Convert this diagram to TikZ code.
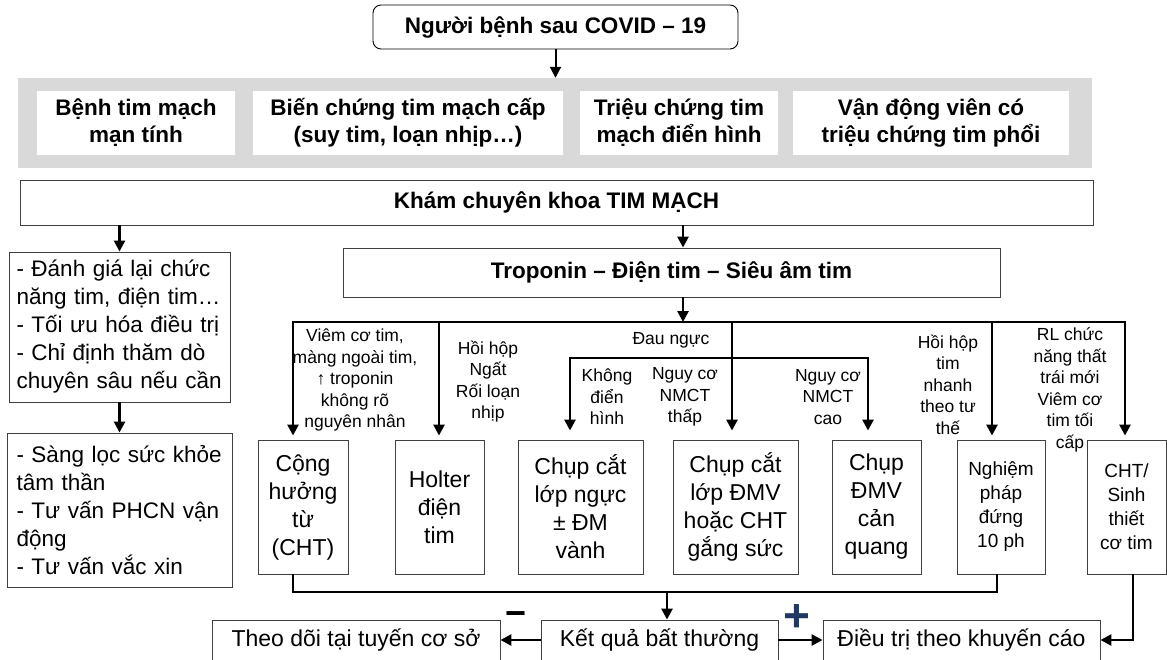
\documentclass[tikz,border=0pt]{standalone}
\usepackage{fontspec}
\setmainfont{Liberation Sans}
\usetikzlibrary{arrows.meta, positioning}
\definecolor{BandGray}{HTML}{D9D9D9}
\definecolor{EdgeGray}{HTML}{404040}
\definecolor{PlusBlue}{HTML}{1F3864}

\begin{document}
\begin{tikzpicture}[x=1pt, y=-1pt,
			box/.style={draw=EdgeGray, line width=0.9pt, fill=white, inner sep=0pt, align=center, font=\fontsize{23}{28}\selectfont},
			head/.style={box, font=\bfseries\fontsize{22.5}{27}\selectfont},
			bandbox/.style={fill=white, inner sep=0pt, align=center, minimum height=64pt, font=\bfseries\fontsize{22.5}{27}\selectfont},
			small/.style={box, font=\fontsize{19}{24}\selectfont},
			note/.style={box, align=left, text width=206pt, font=\fontsize{22.5}{28}\selectfont},
			lbl/.style={inner sep=0pt, align=center, font=\fontsize{17.5}{21.5}\selectfont},
			sign/.style={inner sep=0pt, font=\bfseries\fontsize{36}{36}\selectfont},
			flow/.style={line width=2.6pt, -{Triangle[length=11pt,width=11pt]}},
			bus/.style={line width=2.8pt}
		]
			\useasboundingbox (0,0) rectangle (1167,659);

			\node (covid) [head, draw=black, rounded corners=8pt, minimum width=365pt, minimum height=44pt] at (555.5,27) {Người bệnh sau COVID – 19};

			\node (band) [fill=BandGray, inner sep=0pt, minimum width=1074pt, minimum height=90pt] at (555,123) {};
			\node (chronic) [bandbox, minimum width=198pt] at (136,123) {Bệnh tim mạch\\mạn tính};
			\node (acute) [bandbox, minimum width=310pt] at (408,123) {Biến chứng tim mạch cấp\\(suy tim, loạn nhịp…)};
			\node (typical) [bandbox, minimum width=198pt] at (679,123) {Triệu chứng tim\\mạch điển hình};
			\node (athlete) [bandbox, minimum width=276pt] at (931,123) {Vận động viên có\\triệu chứng tim phổi};

			\node (kham) [head, minimum width=1073pt, minimum height=45pt] at (556.5,202.5) {Khám chuyên khoa TIM MẠCH};
			\node (trop) [head, minimum width=657pt, minimum height=49pt] at (671.5,272.5) {Troponin – Điện tim – Siêu âm tim};

			\node (review) [note, minimum width=221pt, minimum height=150pt] at (119.5,327) {\makebox[\linewidth][s]{- Đánh giá lại chức}\\năng tim, điện tim…\\- Tối ưu hóa điều trị\\\makebox[\linewidth][s]{- Chỉ định thăm dò}\\\makebox[\linewidth][s]{chuyên sâu nếu cần}};
			\node (screen) [note, minimum width=225pt, minimum height=154pt] at (119.5,510) {- Sàng lọc sức khỏe\\tâm thần\\- Tư vấn PHCN vận\\động\\- Tư vấn vắc xin};

			% test boxes
			\node (cmr) [box, minimum width=90pt, minimum height=134pt] at (303,507) {Cộng\\hưởng\\từ\\(CHT)};
			\node (holter) [box, minimum width=89pt, minimum height=134pt] at (439.5,507) {Holter\\điện\\tim};
			\node (ctchest) [box, minimum width=125pt, minimum height=134pt] at (580.5,507) {Chụp cắt\\lớp ngực\\± ĐM\\vành};
			\node (ctcor) [box, minimum width=125pt, minimum height=134pt] at (735.5,507) {Chụp cắt\\lớp ĐMV\\hoặc CHT\\gắng sức};
			\node (angio) [box, minimum width=89pt, minimum height=134pt] at (876.5,507) {Chụp\\ĐMV\\cản\\quang};
			\node (tilt) [small, minimum width=88pt, minimum height=134pt] at (1001,507) {Nghiệm\\pháp\\đứng\\10 ph};
			\node (biopsy) [small, minimum width=79pt, minimum height=134pt] at (1126.5,507) {CHT/\\Sinh\\thiết\\cơ tim};

			\node (followup) [box, minimum width=288pt, minimum height=40pt] at (356,640) {Theo dõi tại tuyến cơ sở};
			\node (abnormal) [box, minimum width=237pt, minimum height=40pt] at (659.5,640) {Kết quả bất thường};
			\node (treat) [box, minimum width=277pt, minimum height=40pt] at (961.5,640) {Điều trị theo khuyến cáo};

			% branch labels
			\node (myo) [lbl] at (355,380) {Viêm cơ tim,\\màng ngoài tim,\\↑ troponin\\không rõ\\nguyên nhân};
			\node (palp) [lbl] at (488,381.5) {Hồi hộp\\Ngất\\Rối loạn\\nhịp};
			\node (chest) [lbl] at (671,340) {Đau ngực};
			\node (atyp) [lbl] at (607,397) {Không\\điển\\hình};
			\node (lowrisk) [lbl] at (685,397) {Nguy cơ\\NMCT\\thấp};
			\node (highrisk) [lbl] at (828,397) {Nguy cơ\\NMCT\\cao};
			\node (postural) [lbl] at (948,384.5) {Hồi hộp\\tim\\nhanh\\theo tư\\thế};
			\node (lvdys) [lbl] at (1070,390) {RL chức\\năng thất\\trái mới\\Viêm cơ\\tim tối\\cấp};

			\node (minus) [sign] at (516,619) {−};
			\node (plus) [sign, text=PlusBlue, font=\bfseries\fontsize{46}{46}\selectfont] at (797,618) {+};

			\coordinate (hub) at (683,322);
			\coordinate (busL) at (293,322);
			\coordinate (busH) at (439,322);
			\coordinate (busC) at (732,322);
			\coordinate (busT) at (992,322);
			\coordinate (busR) at (1125,322);
			\coordinate (subL) at (570,358);
			\coordinate (subC) at (732,358);
			\coordinate (subR) at (868,358);
			\coordinate (retL) at (293,592);
			\coordinate (retM) at (667,592);
			\coordinate (retR) at (997,592);
			\coordinate (side) at (1133,640);

			\draw[flow, line width=2pt] (covid) -- (covid |- band.north);
			\draw[flow] (kham.south -| review) -- (review.north);
			\draw[flow] (review) -- (screen);
			\draw[flow] (kham.south -| hub) -- (trop.north -| hub);
			\draw[flow] (trop.south -| hub) -- (hub);

			\draw[flow, shorten >=4pt] (hub) -- (busL) -- (busL |- cmr.north);
			\draw[flow, shorten >=4pt] (hub) -- (busR) -- (busR |- biopsy.north);
			\draw[flow, shorten >=4pt] (busH) -- (busH |- holter.north);
			\draw[flow, shorten >=9pt] (busC) -- (busC |- ctcor.north);
			\draw[flow, shorten >=4pt] (busT) -- (busT |- tilt.north);
			\draw[flow, shorten >=9pt] (subC) -- (subL) -- (subL |- ctchest.north);
			\draw[flow, shorten >=9pt] (subC) -- (subR) -- (subR |- angio.north);

			\draw[bus] (retL |- cmr.south) -- (retL) -- (retR) -- (retR |- tilt.south);
			\draw[flow] (retM) -- (abnormal.north -| retM);
			\draw[flow] (abnormal) -- (followup);
			\draw[flow] (abnormal) -- (treat);
			\draw[flow] (side |- biopsy.south) -- (side) -- (treat);
		\end{tikzpicture}
\end{document}
